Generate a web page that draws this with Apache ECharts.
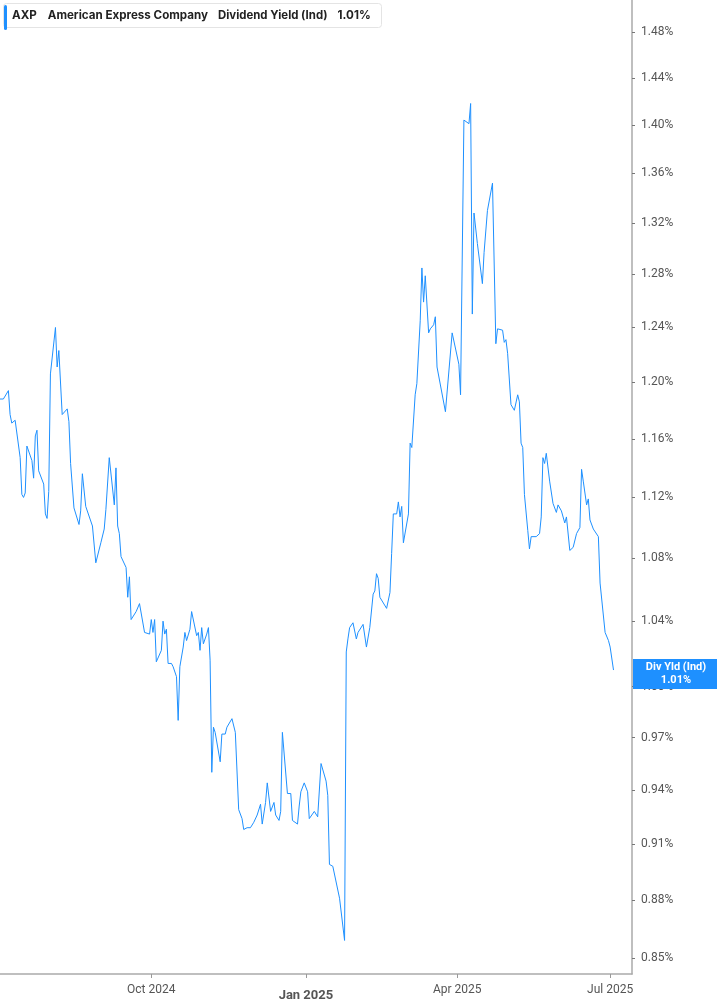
<!DOCTYPE html>
<html>
<head>
<meta charset="utf-8">
<script src="https://cdn.jsdelivr.net/npm/echarts@6/dist/echarts.min.js"></script>
<style>
  html, body { margin: 0; padding: 0; background: #fff; }
  #main { width: 717px; height: 1005px; }
</style>
</head>
<body>
<div id="main"></div>
<script>
// trading dates
const dates = [
  '2024-07-03','2024-07-05','2024-07-08','2024-07-09','2024-07-10','2024-07-12','2024-07-15','2024-07-16','2024-07-17','2024-07-18',
  '2024-07-19','2024-07-22','2024-07-23','2024-07-24','2024-07-25','2024-07-26','2024-07-29','2024-07-30','2024-07-31','2024-08-01',
  '2024-08-02','2024-08-05','2024-08-06','2024-08-07','2024-08-09','2024-08-12','2024-08-13','2024-08-14','2024-08-16','2024-08-19',
  '2024-08-20','2024-08-21','2024-08-23','2024-08-27','2024-08-29','2024-09-01','2024-09-03','2024-09-04','2024-09-05','2024-09-06',
  '2024-09-09','2024-09-10','2024-09-11','2024-09-12','2024-09-13','2024-09-16','2024-09-17','2024-09-18','2024-09-19','2024-09-20',
  '2024-09-22','2024-09-24','2024-09-25','2024-09-27','2024-09-30','2024-10-01','2024-10-02','2024-10-03','2024-10-04','2024-10-07',
  '2024-10-08','2024-10-09','2024-10-10','2024-10-11','2024-10-13','2024-10-14','2024-10-16','2024-10-17','2024-10-18','2024-10-20',
  '2024-10-21','2024-10-22','2024-10-24','2024-10-25','2024-10-28','2024-10-29','2024-10-30','2024-10-31','2024-11-01','2024-11-03',
  '2024-11-04','2024-11-05','2024-11-06','2024-11-07','2024-11-08','2024-11-11','2024-11-12','2024-11-13','2024-11-14','2024-11-15',
  '2024-11-18','2024-11-19','2024-11-20','2024-11-22','2024-11-24','2024-11-25','2024-11-26','2024-11-27','2024-11-29','2024-12-01',
  '2024-12-03','2024-12-04','2024-12-05','2024-12-06','2024-12-08','2024-12-09','2024-12-11','2024-12-12','2024-12-13','2024-12-14',
  '2024-12-16','2024-12-17','2024-12-18','2024-12-21','2024-12-23','2024-12-24','2024-12-27','2024-12-28','2024-12-29','2024-12-31',
  '2025-01-02','2025-01-03','2025-01-06','2025-01-08','2025-01-10','2025-01-13','2025-01-14','2025-01-15','2025-01-17','2025-01-21',
  '2025-01-24','2025-01-25','2025-01-26','2025-01-27','2025-01-28','2025-01-29','2025-01-31','2025-02-01','2025-02-04','2025-02-06',
  '2025-02-07','2025-02-08','2025-02-10','2025-02-11','2025-02-12','2025-02-13','2025-02-14','2025-02-18','2025-02-20','2025-02-21',
  '2025-02-22','2025-02-24','2025-02-25','2025-02-26','2025-02-27','2025-02-28','2025-03-03','2025-03-04','2025-03-05','2025-03-07',
  '2025-03-08','2025-03-10','2025-03-11','2025-03-12','2025-03-13','2025-03-15','2025-03-16','2025-03-18','2025-03-19','2025-03-20',
  '2025-03-21','2025-03-25','2025-03-29','2025-04-02','2025-04-03','2025-04-05','2025-04-08','2025-04-09','2025-04-10','2025-04-11',
  '2025-04-13','2025-04-16','2025-04-17','2025-04-19','2025-04-22','2025-04-24','2025-04-25','2025-04-28','2025-04-29','2025-04-30',
  '2025-05-01','2025-05-03','2025-05-05','2025-05-07','2025-05-08','2025-05-09','2025-05-10','2025-05-11','2025-05-13','2025-05-14',
  '2025-05-15','2025-05-16','2025-05-18','2025-05-20','2025-05-21','2025-05-22','2025-05-23','2025-05-24','2025-05-26','2025-05-28',
  '2025-05-29','2025-05-30','2025-05-31','2025-06-02','2025-06-04','2025-06-05','2025-06-06','2025-06-07','2025-06-09','2025-06-10',
  '2025-06-11','2025-06-12','2025-06-13','2025-06-14','2025-06-15','2025-06-17','2025-06-18','2025-06-19','2025-06-21','2025-06-24',
  '2025-06-25','2025-06-26','2025-06-28','2025-06-30','2025-07-01','2025-07-03'
]

// dividend yield in %
const yieldValues = [
  1.188,1.188,1.194,1.177,1.171,1.173,1.147,1.122,1.120,1.123,
  1.155,1.145,1.133,1.162,1.166,1.138,1.129,1.109,1.106,1.124,
  1.206,1.240,1.211,1.223,1.177,1.181,1.172,1.143,1.113,1.102,
  1.111,1.136,1.114,1.101,1.077,1.090,1.099,1.112,1.112,1.147,
  1.115,1.140,1.101,1.096,1.081,1.074,1.055,1.068,1.041,1.040,
  1.046,1.051,1.051,1.033,1.032,1.041,1.033,1.041,1.015,1.022,
  1.040,1.032,1.035,1.014,1.014,1.012,1.006,0.980,1.012,1.024,
  1.033,1.028,1.035,1.046,1.031,1.033,1.022,1.036,1.026,1.032,
  1.036,1.016,0.950,0.976,0.973,0.956,0.972,0.973,0.972,0.976,
  0.981,0.980,0.973,0.929,0.924,0.918,0.917,0.919,0.919,0.922,
  0.926,0.925,0.932,0.921,0.933,0.944,0.928,0.927,0.933,0.926,
  0.923,0.928,0.973,0.938,0.938,0.923,0.921,0.931,0.939,0.944,
  0.939,0.924,0.928,0.925,0.955,0.945,0.937,0.899,0.898,0.881,
  0.859,1.021,1.029,1.036,1.035,1.039,1.029,1.033,1.038,1.024,
  1.025,1.036,1.057,1.059,1.070,1.067,1.055,1.048,1.058,1.083,
  1.109,1.109,1.117,1.107,1.114,1.090,1.109,1.157,1.154,1.191,
  1.199,1.245,1.285,1.259,1.279,1.236,1.239,1.242,1.248,1.211,
  1.212,1.179,1.236,1.213,1.191,1.404,1.401,1.418,1.250,1.328,
  1.304,1.273,1.297,1.330,1.352,1.228,1.239,1.238,1.229,1.231,
  1.221,1.184,1.180,1.191,1.186,1.157,1.154,1.122,1.098,1.086,
  1.094,1.095,1.094,1.096,1.107,1.147,1.143,1.150,1.131,1.116,
  1.117,1.110,1.115,1.111,1.103,1.107,1.107,1.085,1.087,1.088,
  1.096,1.096,1.100,1.139,1.131,1.115,1.119,1.105,1.099,1.094,
  1.064,1.063,1.033,1.028,1.024,1.010
]

const yTicks = [0.85, 0.88, 0.91, 0.94, 0.97, 1.00, 1.04, 1.08, 1.12, 1.16, 1.20, 1.24, 1.28, 1.32, 1.36, 1.40, 1.44, 1.48]
const xTicks = ['2024-10-01', '2025-01-01', '2025-04-01', '2025-07-01']
const monthNames = ['Jan', 'Feb', 'Mar', 'Apr', 'May', 'Jun', 'Jul', 'Aug', 'Sep', 'Oct', 'Nov', 'Dec']
const lastValue = 1.01

const blue = '#1e90ff'
const myChart = echarts.init(document.getElementById('main'), null, { renderer: 'canvas' })

// dates -> UTC timestamps for a plain value axis
const xTickTimes = xTicks.map(d => Date.parse(d))

const option = {
  animation: false,
  backgroundColor: '#fff',
  textStyle: { fontFamily: 'Roboto, "DejaVu Sans", sans-serif' },
  title: {
    left: 3,
    top: 3,
    text: '{t|AXP}{n|American Express Company}{f|Dividend Yield (Ind)}{v|' + lastValue.toFixed(2) + '%}',
    backgroundColor: '#fff',
    borderColor: '#e4e4e4',
    borderWidth: 1,
    borderRadius: 3,
    padding: [7, 11, 6, 9],
    textStyle: {
      rich: {
        t: { fontFamily: 'Inter', fontSize: 11.6, fontWeight: 'bold', color: '#222', padding: [0, 11, 0, 0] },
        n: { fontFamily: 'Inter', fontSize: 11.6, fontWeight: 'bold', color: '#222', padding: [0, 10, 0, 0] },
        f: { fontFamily: 'Inter', fontSize: 11.4, color: '#222', padding: [0, 10, 0, 0] },
        v: { fontFamily: 'Inter', fontSize: 11.6, fontWeight: 'bold', color: '#222' }
      }
    }
  },
  // blue bar at the left of the legend box
  graphic: [
    { type: 'rect', left: 4, top: 5, shape: { width: 3, height: 25, r: 1.5 }, style: { fill: blue }, z: 100 }
  ],
  grid: { left: 0, right: 85, top: 0, bottom: 31, containLabel: false },
  xAxis: {
    type: 'value',
    min: Date.parse('2024-07-03'),
    max: Date.parse('2025-07-14'),
    splitLine: { show: false },
    axisLine: { lineStyle: { color: '#aaa', width: 1.5 } },
    axisTick: { show: true, customValues: xTickTimes, length: 4, lineStyle: { color: '#999' } },
    axisLabel: {
      customValues: xTickTimes,
      margin: 10,
      color: '#555',
      fontSize: 12,
      formatter: function (value) {
        const d = new Date(value)
        const txt = monthNames[d.getUTCMonth()] + ' ' + d.getUTCFullYear()
        return d.getUTCMonth() === 0 ? '{y|' + txt + '}' : txt
      },
      rich: {
        y: { fontSize: 13, fontWeight: 'bold', color: '#555', padding: [5, 0, 0, 0] }
      }
    }
  },
  yAxis: {
    type: 'log',
    logBase: 10,
    position: 'right',
    min: 0.8419,
    max: 1.5087,
    splitLine: { show: false },
    axisLine: { show: true, lineStyle: { color: '#aaa', width: 1.5 } },
    axisTick: { show: true, customValues: yTicks, length: 3, lineStyle: { color: '#777' } },
    axisLabel: {
      customValues: yTicks,
      margin: 9,
      color: '#555',
      fontSize: 12,
      formatter: v => Number(v).toFixed(2) + '%'
    }
  },
  series: [
    {
      name: 'Div Yld (Ind)',
      type: 'line',
      data: dates.map((d, i) => [Date.parse(d), yieldValues[i]]),
      showSymbol: false,
      symbol: 'none',
      lineStyle: { color: blue, width: 1 },
      itemStyle: { color: blue },
      markLine: {
        silent: true,
        symbol: 'none',
        lineStyle: { color: 'transparent', width: 0, type: 'solid' },
        data: [{ yAxis: lastValue }],
        label: {
          show: true,
          opacity: 1,
          position: 'end',
          distance: 1,
          offset: [0, 4],
          formatter: '{a|Div Yld (Ind)}\n{a|' + lastValue.toFixed(2) + '%}',
          backgroundColor: blue,
          padding: [2, 12, 2, 12],
          rich: {
            a: { width: 62, align: 'center', color: '#fff', fontWeight: 'bold', fontSize: 11, lineHeight: 13 }
          }
        }
      }
    }
  ]
}

myChart.setOption(option)
</script>
</body>
</html>
